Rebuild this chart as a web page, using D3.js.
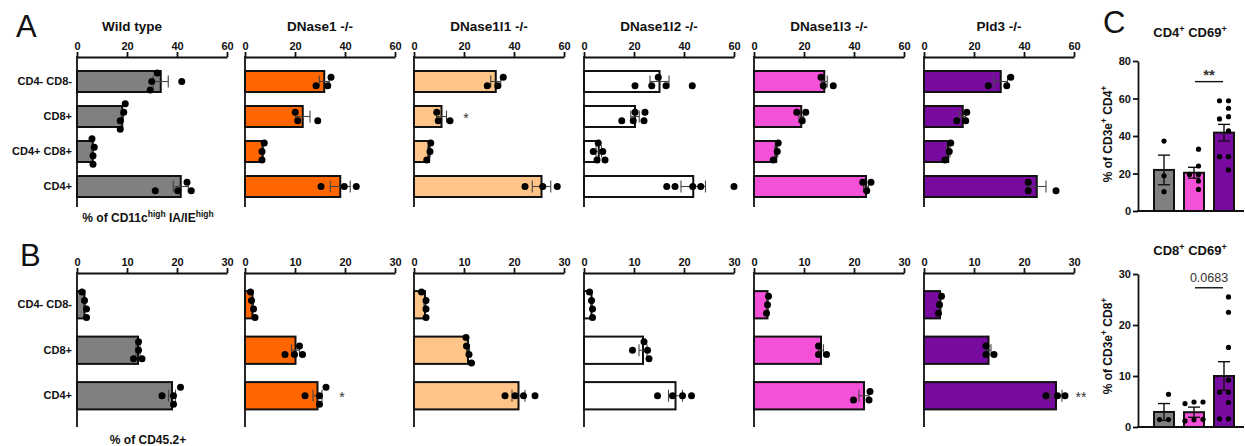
<!DOCTYPE html>
<html>
<head>
<meta charset="utf-8">
<title>Dendritic and T cell subsets by genotype</title>
<script src="https://d3js.org/d3.v7.min.js"></script>
<style>
  body { margin: 0; background: #fff; }
  svg { font-family: "Liberation Sans", Arial, sans-serif; }
  .tick text { font-weight: bold; font-size: 11px; fill: #111; }
  .tick line, .domain { stroke: #111; stroke-width: 1.8; }
</style>
</head>
<body>
<svg id="fig" width="1245" height="446"></svg>
<script>
    // genotypes (one small panel each in A and B)
    var genotypes = ["Wild type", "DNase1 -/-", "DNase1l1 -/-", "DNase1l2 -/-", "DNase1l3 -/-", "Pld3 -/-"];
    var fills = ["#808080", "#ff6600", "#ffc487", "#ffffff", "#f550d8", "#780aa0"];

    // A: % of CD11c high IA/IE high
    var catsA = ["CD4- CD8-", "CD8+", "CD4+ CD8+", "CD4+"];
    var ticksA = [0, 20, 40, 60];
    var meanA = [
        [33.5, 18.1, 6.3, 41.5],
        [31.7, 23.1, 7.1, 38.1],
        [32.7, 11.0, 6.0, 51.0],
        [30.2, 20.4, 5.9, 43.7],
        [28.1, 18.9, 8.9, 44.8],
        [30.7, 15.5, 9.7, 45.1]
    ];
    var semA = [
        [3.0, 0.5, 0.2, 3.0],
        [2.0, 2.9, 0.3, 4.0],
        [2.0, 2.0, 0.5, 3.7],
        [3.8, 1.7, 1.1, 4.9],
        [1.2, 1.0, 0.6, 1.0],
        [2.7, 1.2, 0.7, 3.7]
    ];
    var ptsA = [
        [[29.9, 32.1, 41.9, 29.3], [17.3, 18.7, 17.3, 19.3], [6.4, 6.9, 6.4, 6.0], [45.7, 31.3, 40.3, 44.0]],
        [[33.1, 28.4, 34.4], [21.1, 29.1, 20.1], [6.8, 7.7, 6.8], [30.4, 39.7, 44.5]],
        [[33.5, 29.3, 35.7], [9.7, 14.4, 9.1], [6.4, 6.7, 5.1], [44.4, 51.5, 57.3]],
        [[20.4, 27.1, 29.7, 32.8, 43.3], [19.7, 24.0, 15.1, 20.4, 24.4], [7.5, 5.7, 8.4, 3.7, 5.2], [33.1, 36.4, 43.5, 46.7, 60.0]],
        [[27.7, 31.7, 26.8], [19.3, 17.1, 20.7], [9.3, 9.7, 7.7], [45.1, 43.5, 46.8]],
        [[33.1, 25.7, 34.7], [16.7, 13.1, 17.1], [10.1, 10.7, 8.4], [41.7, 41.7, 52.8]]
    ];
    var starsA = [[2, 1, "*"]];   // [genotype, category, label]

    // B: % of CD45.2+
    var catsB = ["CD4- CD8-", "CD8+", "CD4+"];
    var ticksB = [0, 10, 20, 30];
    var meanB = [
        [1.5, 12.2, 19.0],
        [1.5, 10.1, 14.5],
        [2.2, 10.8, 20.9],
        [1.5, 11.8, 18.3],
        [2.7, 13.4, 22.0],
        [3.2, 12.9, 26.4]
    ];
    var semB = [
        [0.2, 0.4, 0.7],
        [0.2, 0.8, 0.9],
        [0.2, 0.3, 1.3],
        [0.15, 0.8, 1.4],
        [0.1, 0.5, 1.0],
        [0.2, 0.5, 1.2]
    ];
    var ptsB = [
        [[1.9, 1.5, 1.9, 1.0], [12.3, 12.3, 11.3, 13.0], [19.3, 17.0, 20.7, 19.3]],
        [[1.7, 1.3, 2.0, 1.1], [9.9, 11.5, 8.0, 10.9], [14.9, 12.0, 16.2, 14.9]],
        [[2.4, 2.4, 2.4, 1.5], [11.0, 10.5, 11.5, 10.4], [18.2, 20.2, 21.9, 24.2]],
        [[1.7, 1.5, 1.7, 1.1], [12.7, 9.7, 12.0, 13.0], [14.7, 17.7, 19.7, 21.5]],
        [[2.7, 2.9, 2.5], [12.9, 14.5, 12.9], [23.0, 19.9, 23.2]],
        [[3.1, 3.5, 2.9], [12.4, 14.0, 12.4], [24.4, 26.7, 28.2]]
    ];
    var starsB = [[1, 2, "*"], [5, 2, "**"]];

    // C: CD69+ activation, three genotypes
    var groupsC = ["Wild type", "DNase1l3 -/-", "Pld3 -/-"];
    var fillsC = ["#808080", "#f550d8", "#780aa0"];
    var ticksC4 = [0, 20, 40, 60, 80];
    var cd4Mean = [21.9, 20.4, 41.8];
    var cd4Sem = [7.9, 2.9, 4.4];
    var cd4Pts = [
        [37.3, 18.8, 10.3],
        [33.0, 24.0, 19.5, 19.5, 16.0, 11.5],
        [58.8, 58.8, 54.8, 50.3, 49.1, 42.7, 29.0, 29.0, 21.9]
    ];
    var ticksC8 = [0, 10, 20, 30];
    var cd8Mean = [2.95, 2.9, 10.0];
    var cd8Sem = [1.65, 1.0, 2.8];
    var cd8Pts = [
        [6.4, 1.45, 1.45],
        [4.9, 4.6, 4.9, 1.4, 1.2, 1.5],
        [25.5, 22.5, 15.6, 9.2, 6.8, 6.8, 4.8, 1.6, 1.6]
    ];

    var svg = d3.select("#fig");
    var panelX = [77, 245, 414, 584, 754, 924];
    var panelW = 150;
    var titleDx = [-20, 0, 0, 0, 0, 0];

    // greedy beeswarm: offsets across the category axis
    function swarm(vals, scale, step, minD) {
        var placed = [];
        var out = vals.map(function(v) {
            var p = scale(v);
            var cands = [0, -step, step, -2 * step, 2 * step, -3 * step, 3 * step];
            for (var i = 0; i < cands.length; i++) {
                var o = cands[i];
                var ok = placed.every(function(q) { return Math.hypot(q[0] - p, q[1] - o) >= minD; });
                if (ok) { placed.push([p, o]); return o; }
            }
            placed.push([p, 0]);
            return 0;
        });
        var c = (d3.min(out) + d3.max(out)) / 2;
        return out.map(function(o) { return o - c; });
    }

    // text with superscript parts: [["% of CD11c"], ["high", true], ...]
    function richText(sel, parts, supSize) {
        parts.forEach(function(p, i) {
            var t = sel.append("tspan").text(p[0]);
            if (p[1]) t.attr("font-size", supSize).attr("dy", -5);
            else if (i > 0 && parts[i - 1][1]) t.attr("dy", 5);
        });
    }

    function hPanel(k, cats, ticks, maxV, axisY, bandTop, step, bottom, mean, sem, pts, stars) {
        var x0 = panelX[k];
        var x = d3.scaleLinear().domain([0, maxV]).range([x0, x0 + panelW]);
        var y = d3.scaleBand().domain(cats)
            .range([bandTop, bandTop + step * cats.length])
            .paddingInner(0.4).paddingOuter(0.2);
        var g = svg.append("g");

        g.append("g").attr("transform", "translate(0," + axisY + ")")
            .call(d3.axisTop(x).tickValues(ticks).tickSize(5).tickSizeOuter(0).tickPadding(2));
        g.append("line").attr("x1", x0).attr("x2", x0).attr("y1", axisY - 1).attr("y2", bottom)
            .attr("stroke", "#111").attr("stroke-width", 1.8);

        if (k === 0) {
            g.append("g").attr("transform", "translate(" + (x0 - 1) + ",0)")
                .call(d3.axisLeft(y).tickSize(0).tickPadding(4))
                .call(function(a) { a.select(".domain").remove(); });
        }

        cats.forEach(function(c, j) {
            var cy = y(c) + y.bandwidth() / 2;
            g.append("rect")
                .attr("x", x0).attr("y", y(c))
                .attr("width", x(mean[j]) - x0).attr("height", y.bandwidth())
                .attr("fill", fills[k]).attr("stroke", "#111").attr("stroke-width", 2);
            var lo = x(mean[j] - sem[j]), hi = x(mean[j] + sem[j]);
            var eb = g.append("g").attr("stroke", "#444").attr("stroke-width", 1.1);
            eb.append("line").attr("x1", lo).attr("x2", hi).attr("y1", cy).attr("y2", cy);
            eb.append("line").attr("x1", lo).attr("x2", lo).attr("y1", cy - 6).attr("y2", cy + 6);
            eb.append("line").attr("x1", hi).attr("x2", hi).attr("y1", cy - 6).attr("y2", cy + 6);
            var offs = swarm(pts[j], x, 8.5, 7.2);
            g.selectAll(null).data(pts[j]).enter().append("circle")
                .attr("cx", function(d) { return x(d); })
                .attr("cy", function(d, i) { return cy + offs[i]; })
                .attr("r", 3.5).attr("fill", "#000");
        });

        stars.filter(function(s) { return s[0] === k; }).forEach(function(s) {
            var c = cats[s[1]];
            g.append("text")
                .attr("x", x(d3.max(pts[s[1]])) + 16)
                .attr("y", y(c) + y.bandwidth() / 2 + 6)
                .attr("text-anchor", "middle").attr("font-size", 14).attr("fill", "#333")
                .text(s[2]);
        });
        return g;
    }

    genotypes.forEach(function(name, k) {
        svg.append("text")
            .attr("x", panelX[k] + panelW / 2 + titleDx[k]).attr("y", 31)
            .attr("text-anchor", "middle").attr("font-weight", "bold").attr("font-size", 13.5)
            .attr("fill", "#111").text(name);
        hPanel(k, catsA, ticksA, 60, 57, 64, 35, 207, meanA[k], semA[k], ptsA[k], starsA);
        hPanel(k, catsB, ticksB, 30, 273, 282, 45.5, 427, meanB[k], semB[k], ptsB[k], starsB);
    });

    svg.append("text").attr("x", 148).attr("y", 222).attr("text-anchor", "middle")
        .attr("font-weight", "bold").attr("font-size", 12).attr("fill", "#111")
        .call(richText, [["% of CD11c"], ["high", true], [" IA/IE"], ["high", true]], 8.5);
    svg.append("text").attr("x", 148).attr("y", 444).attr("text-anchor", "middle")
        .attr("font-weight", "bold").attr("font-size", 12).attr("fill", "#111")
        .text("% of CD45.2+");

    // panel letters
    [["A", 16, 37], ["B", 20, 266], ["C", 1103, 33]].forEach(function(l) {
        svg.append("text").attr("x", l[1]).attr("y", l[2])
            .attr("font-size", 31).attr("fill", "#111").text(l[0]);
    });

    function vPanel(ticks, maxV, yBottom, yTop, mean, sem, pts, title, titleY, ylabel, ylabelY, sig, sigV, sigBold) {
        var axX = 1138;
        var y = d3.scaleLinear().domain([0, maxV]).range([yBottom, yTop]);
        var x = d3.scalePoint().domain(groupsC).range([1164, 1224]);
        var g = svg.append("g");

        g.append("g").attr("transform", "translate(" + axX + ",0)")
            .call(d3.axisLeft(y).tickValues(ticks).tickSize(5).tickSizeOuter(0).tickPadding(2));
        g.append("line").attr("x1", axX - 1).attr("x2", 1244).attr("y1", yBottom).attr("y2", yBottom)
            .attr("stroke", "#111").attr("stroke-width", 1.8);

        groupsC.forEach(function(gname, i) {
            var cx = x(gname);
            g.append("rect").attr("x", cx - 10).attr("width", 20)
                .attr("y", y(mean[i])).attr("height", yBottom - y(mean[i]))
                .attr("fill", fillsC[i]).attr("stroke", "#111").attr("stroke-width", 2);
            var lo = y(mean[i] - sem[i]), hi = y(mean[i] + sem[i]);
            var eb = g.append("g").attr("stroke", "#111").attr("stroke-width", 1.4);
            eb.append("line").attr("x1", cx).attr("x2", cx).attr("y1", lo).attr("y2", hi);
            eb.append("line").attr("x1", cx - 6).attr("x2", cx + 6).attr("y1", hi).attr("y2", hi);
            eb.append("line").attr("x1", cx - 6).attr("x2", cx + 6).attr("y1", lo).attr("y2", lo);
            var offs = swarm(pts[i], y, 9, 6);
            g.selectAll(null).data(pts[i]).enter().append("circle")
                .attr("cx", function(d, j) { return cx + offs[j]; })
                .attr("cy", function(d) { return y(d); })
                .attr("r", 2.6).attr("fill", "#000");
        });

        g.append("text").attr("x", 1190).attr("y", titleY).attr("text-anchor", "middle")
            .attr("font-weight", "bold").attr("font-size", 13).attr("fill", "#111")
            .call(richText, title, 9);
        g.append("text")
            .attr("transform", "translate(1112," + ylabelY + ") rotate(-90)")
            .attr("text-anchor", "middle").attr("font-weight", "bold").attr("font-size", 12)
            .attr("fill", "#111")
            .call(richText, ylabel, 8.5);

        var sx1 = x(groupsC[1]) + 1, sx2 = x(groupsC[2]) - 1;
        g.append("line").attr("x1", sx1).attr("x2", sx2).attr("y1", y(sigV)).attr("y2", y(sigV))
            .attr("stroke", "#111").attr("stroke-width", 1.4);
        g.append("text").attr("x", (sx1 + sx2) / 2).attr("y", y(sigV) - (sigBold ? 2 : 6))
            .attr("text-anchor", "middle").attr("font-size", sigBold ? 15 : 12.5)
            .attr("font-weight", sigBold ? "bold" : "normal").attr("fill", "#333").text(sig);
    }

    vPanel(ticksC4, 80, 211, 61, cd4Mean, cd4Sem, cd4Pts,
        [["CD4"], ["+", true], [" CD69"], ["+", true]], 37,
        [["% of CD3e"], ["+", true], [" CD4"], ["+", true]], 134, "**", 69, true);
    vPanel(ticksC8, 30, 427, 274, cd8Mean, cd8Sem, cd8Pts,
        [["CD8"], ["+", true], [" CD69"], ["+", true]], 255,
        [["% of CD3e"], ["+", true], [" CD8"], ["+", true]], 346, "0.0683", 27.3, false);
</script>
</body>
</html>
